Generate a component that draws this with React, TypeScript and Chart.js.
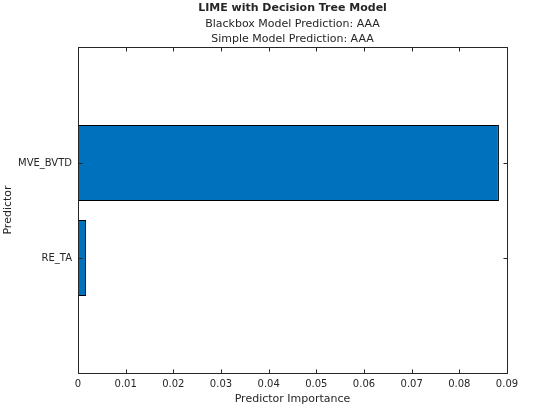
import React, { useEffect, useRef } from 'react';
import { Chart, registerables } from 'chart.js';
Chart.register(...registerables);

const predictors = ['RE_TA', 'MVE_BVTD'];
const predictorPositions = [1, 2];
const importance = [0.0017, 0.0883];
const xTickValues = [0, 0.01, 0.02, 0.03, 0.04, 0.05, 0.06, 0.07, 0.08, 0.09];
const titleText = 'LIME with Decision Tree Model';
const subtitleLines = ['Blackbox Model Prediction: AAA', 'Simple Model Prediction: AAA'];
const xAxisTitle = 'Predictor Importance';
const yAxisTitle = 'Predictor';
const yMin = -0.2105;
const yMax = 3.2211;

const TEXT = '#262626';
const FONT = 'DejaVu Sans';

const framePlugin = {
  id: 'matlabFrame',
  afterDraw(chart: any) {
    const { ctx, chartArea } = chart;
    const { left, right, top, bottom } = chartArea;
    const xs = chart.scales.x;
    const ys = chart.scales.y;
    ctx.save();
    ctx.strokeStyle = TEXT;
    ctx.lineWidth = 1;
    ctx.strokeRect(left + 0.5, top + 0.5, right - left, bottom - top);
    const tl = 4;
    ctx.beginPath();
    xTickValues.forEach((v) => {
      const px = Math.round(xs.getPixelForValue(v)) + 0.5;
      ctx.moveTo(px, bottom + 0.5);
      ctx.lineTo(px, bottom + 0.5 - tl);
      ctx.moveTo(px, top + 0.5);
      ctx.lineTo(px, top + 0.5 + tl);
    });
    predictorPositions.forEach((v) => {
      const py = Math.round(ys.getPixelForValue(v)) + 0.5;
      ctx.moveTo(left + 0.5, py);
      ctx.lineTo(left + 0.5 + tl, py);
      ctx.moveTo(right + 0.5, py);
      ctx.lineTo(right + 0.5 - tl, py);
    });
    ctx.stroke();

    const cx = (left + right) / 2;
    ctx.fillStyle = TEXT;
    ctx.textAlign = 'center';
    ctx.textBaseline = 'middle';
    ctx.font = `bold 11px "${FONT}"`;
    ctx.fillText(titleText, cx, 8);
    ctx.font = `11px "${FONT}"`;
    ctx.fillText(subtitleLines[0], cx, 24);
    ctx.fillText(subtitleLines[1], cx, 39);
    ctx.fillText(xAxisTitle, cx, 399);
    ctx.save();
    ctx.translate(8, (top + bottom) / 2);
    ctx.rotate(-Math.PI / 2);
    ctx.fillText(yAxisTitle, 0, 0);
    ctx.restore();
    ctx.restore();
  },
};

function App() {
  const ref = useRef<HTMLCanvasElement>(null);
  useEffect(() => {
    document.body.style.margin = '0';
    const chart = new Chart(ref.current as HTMLCanvasElement, {
      type: 'bar',
      data: {
        datasets: [
          {
            data: predictorPositions.map((p, i) => ({ x: importance[i], y: p })),
            backgroundColor: '#0072BD',
            borderColor: '#000000',
            borderWidth: 1,
            barPercentage: 1,
            categoryPercentage: 0.8,
          },
        ],
      },
      options: {
        indexAxis: 'y',
        responsive: false,
        animation: false,
        layout: { padding: { top: 47, right: 53, left: 0, bottom: 0 } },
        plugins: { legend: { display: false }, tooltip: { enabled: false }, title: { display: false } },
        scales: {
          x: {
            type: 'linear',
            min: 0,
            max: 0.09,
            offset: false,
            grid: { display: false, drawTicks: false },
            border: { display: false },
            afterBuildTicks: (s: any) => {
              s.ticks = xTickValues.map((v) => ({ value: v }));
            },
            afterFit: (s: any) => {
              s.height = 47;
            },
            ticks: {
              autoSkip: false,
              maxRotation: 0,
              padding: 5,
              color: TEXT,
              font: { family: FONT, size: 10 },
              callback: (v: any) => Number(Number(v).toFixed(2)).toString(),
            },
          },
          y: {
            type: 'linear',
            min: yMin,
            max: yMax,
            offset: false,
            grid: { display: false, drawTicks: false, offset: false },
            border: { display: false },
            afterBuildTicks: (s: any) => {
              s.ticks = predictorPositions.map((v) => ({ value: v }));
            },
            afterFit: (s: any) => {
              s.width = 78;
            },
            ticks: {
              autoSkip: false,
              padding: 6,
              color: TEXT,
              font: { family: FONT, size: 10 },
              callback: (v: any) => {
                const i = predictorPositions.indexOf(Number(v));
                return i >= 0 ? predictors[i] : '';
              },
            },
          },
        },
      },
      plugins: [framePlugin],
    } as any);
    return () => chart.destroy();
  }, []);
  return (
    <div style={{ position: 'fixed', left: 0, top: 0, width: 560, height: 420, background: '#fff' }}>
      <canvas ref={ref} width={560} height={420} />
    </div>
  );
}

export default App;
